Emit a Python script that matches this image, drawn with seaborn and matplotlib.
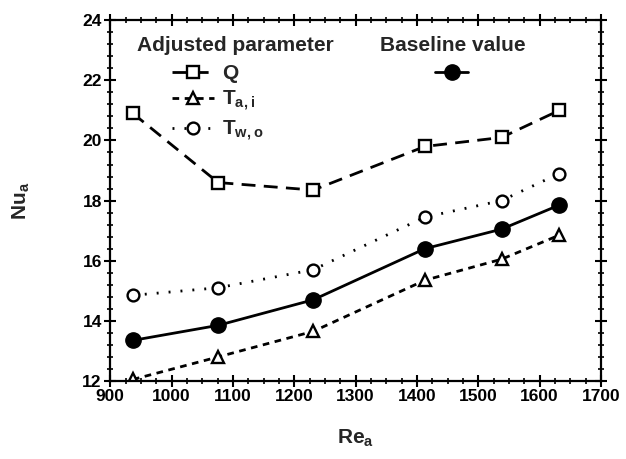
import numpy as np
import pandas as pd
import matplotlib
matplotlib.use("Agg")
import matplotlib.pyplot as plt
import seaborn as sns
from matplotlib.ticker import MultipleLocator

re_a = [937, 1076, 1231, 1413, 1538, 1632]
nu_q = [20.9, 18.6, 18.35, 19.8, 20.1, 21.0]
nu_tai = [12.05, 12.8, 13.65, 15.35, 16.05, 16.85]
nu_two = [14.85, 15.1, 15.7, 17.45, 18.0, 18.9]
nu_base = [13.35, 13.85, 14.7, 16.4, 17.05, 17.85]

x_ticks = [900, 1000, 1100, 1200, 1300, 1400, 1500, 1600, 1700]
y_ticks = [12, 14, 16, 18, 20, 22, 24]

sns.set_theme(style="ticks")
plt.rcParams['font.family'] = ['Liberation Sans', 'DejaVu Sans']
plt.rcParams['font.weight'] = 'bold'
plt.rcParams['mathtext.fontset'] = 'custom'
plt.rcParams['mathtext.rm'] = 'Liberation Sans:bold'
plt.rcParams['mathtext.bf'] = 'Liberation Sans:bold'
plt.rcParams['mathtext.default'] = 'rm'

fig = plt.figure(figsize=(6.26, 4.59), dpi=100)
ax = fig.add_axes([0.176, 0.17, 0.784, 0.786])

lw = 2.0
series = [
    ("Q", nu_q, "s", (0, (5, 3)), "white", 8.5),
    (r"T$_{\mathrm{a,i}}$", nu_tai, "^", (0, (2.4, 2.0)), "white", 8.5),
    (r"T$_{\mathrm{w,o}}$", nu_two, "o", (0, (0.7, 3.6)), "white", 8.5),
]
handles = []
for label, vals, mk, ls, fc, ms in series:
    df = pd.DataFrame({"Re": re_a, "Nu": vals})
    sns.lineplot(data=df, x="Re", y="Nu", ax=ax, color="black", linewidth=lw,
                 linestyle=ls, marker=mk, markersize=ms, markerfacecolor=fc,
                 markeredgecolor="black", markeredgewidth=1.7, label=label,
                 legend=False)
    handles.append(ax.get_lines()[-1])

dfb = pd.DataFrame({"Re": re_a, "Nu": nu_base})
sns.lineplot(data=dfb, x="Re", y="Nu", ax=ax, color="black", linewidth=lw,
             marker="o", markersize=11, markerfacecolor="black",
             markeredgecolor="black", markeredgewidth=1.0, label=" ", legend=False)
hb = ax.get_lines()[-1]

ax.set_xlim(900, 1700)
ax.set_ylim(12, 24)
ax.set_xticks(x_ticks)
ax.set_yticks(y_ticks)
ax.xaxis.set_minor_locator(MultipleLocator(25))
ax.yaxis.set_minor_locator(MultipleLocator(0.4))
ax.tick_params(which="major", direction="inout", length=8, width=1.5,
               top=True, right=True, labelsize=12.5, pad=2, color="black",
               labelcolor="black")
ax.tick_params(which="minor", direction="inout", length=4, width=1.2,
               top=True, right=True, color="black")
for lab in ax.get_xticklabels() + ax.get_yticklabels():
    lab.set_fontweight("bold")
for s in ax.spines.values():
    s.set_linewidth(1.6)
    s.set_color("black")

ax.set_xlabel(r"Re$_{\mathrm{a}}$", fontsize=15, fontweight="bold", labelpad=17)
ax.set_ylabel(r"Nu$_{\mathrm{a}}$", fontsize=15, fontweight="bold", labelpad=36)

ax.text(0.055, 0.931, "Adjusted parameter", transform=ax.transAxes,
        fontsize=15, fontweight="bold", va="center", ha="left")
ax.text(0.55, 0.931, "Baseline value", transform=ax.transAxes,
        fontsize=15, fontweight="bold", va="center", ha="left")

leg1 = ax.legend(handles=handles, labels=[h.get_label() for h in handles],
                 loc="upper left", bbox_to_anchor=(0.126, 0.878), frameon=False,
                 fontsize=15, handlelength=2.0, handletextpad=0.4,
                 labelspacing=0.28, borderpad=0, borderaxespad=0)
ax.add_artist(leg1)
ax.legend(handles=[hb], labels=[""], loc="upper left",
          bbox_to_anchor=(0.662, 0.878), frameon=False, fontsize=15,
          handlelength=1.6, borderpad=0, borderaxespad=0)

fig.savefig("out.png", dpi=100, facecolor="white")
